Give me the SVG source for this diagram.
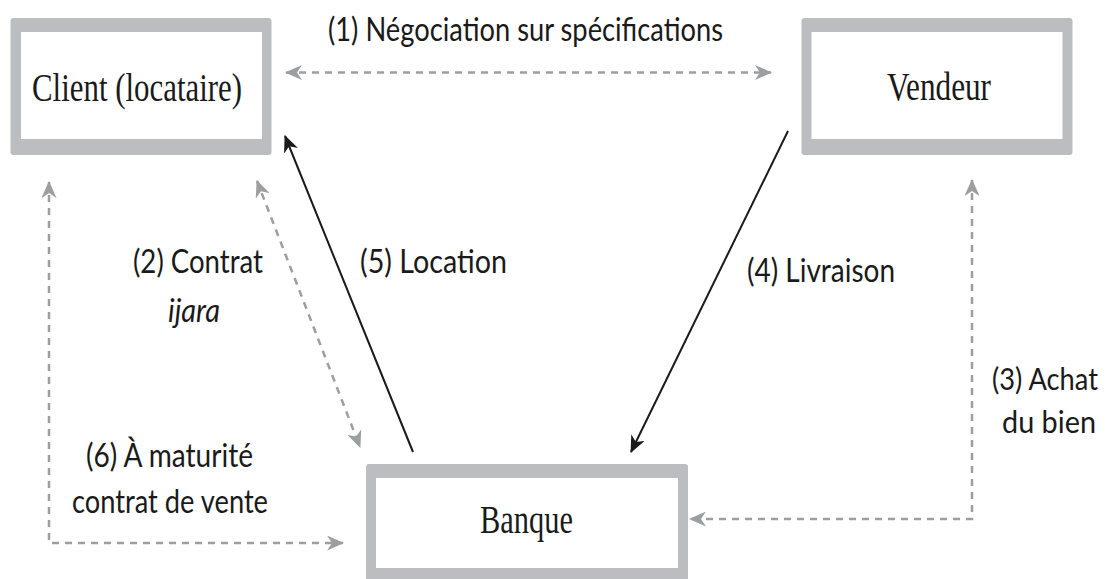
<svg xmlns="http://www.w3.org/2000/svg" width="1109" height="579" viewBox="0 0 1109 579">
  <style>
    .box-outer { fill: #bcbdc0; }
    .box-inner { fill: #ffffff; }
    .node-label { font-family: "Liberation Serif", serif; font-size: 40px; fill: #1a1a1a; }
    .edge-label { font-family: Lato, "Liberation Sans", sans-serif; font-size: 32px; fill: #1a1a1a; }
    .edge-label.tight { font-size: 30px; }
    .dashed { fill: none; stroke: #9c9ea1; stroke-width: 2.5; stroke-dasharray: 7 6; }
    .solid { fill: none; stroke: #1a1a1a; stroke-width: 2; }
  </style>
  <defs>
    <marker id="arrow-grey" viewBox="0 0 17 15" refX="16" refY="7.5" markerWidth="17" markerHeight="15" markerUnits="userSpaceOnUse" orient="auto-start-reverse">
      <path d="M0,0 L17,7.5 L0,15 L5,7.5 Z" fill="#9c9ea1"/>
    </marker>
    <marker id="arrow-black" viewBox="0 0 17 15" refX="16" refY="7.5" markerWidth="17" markerHeight="15" markerUnits="userSpaceOnUse" orient="auto">
      <path d="M0,0 L17,7.5 L0,15 L5,7.5 Z" fill="#1a1a1a"/>
    </marker>
  </defs>

  <rect width="1109" height="579" fill="#ffffff"/>

  <!-- Connectors -->
  <g id="connectors">
    <!-- (1) negotiation, both ways -->
    <line class="dashed" x1="286" y1="72.5" x2="771" y2="72.5" marker-start="url(#arrow-grey)" marker-end="url(#arrow-grey)"/>
    <!-- (2) ijara contract, both ways -->
    <line class="dashed" x1="257" y1="181" x2="360" y2="447" marker-start="url(#arrow-grey)" marker-end="url(#arrow-grey)"/>
    <!-- (6) sale contract at maturity -->
    <polyline class="dashed" points="49,182 49,543 343,543" marker-start="url(#arrow-grey)" marker-end="url(#arrow-grey)"/>
    <!-- (3) purchase of the asset -->
    <polyline class="dashed" points="972,180 972,519 690,519" marker-start="url(#arrow-grey)" marker-end="url(#arrow-grey)"/>
    <!-- (5) lease -->
    <line class="solid" x1="413" y1="452" x2="285" y2="136" marker-end="url(#arrow-black)"/>
    <!-- (4) delivery -->
    <line class="solid" x1="788" y1="131" x2="631" y2="452" marker-end="url(#arrow-black)"/>

    <text class="edge-label" x="328" y="41" textLength="395" lengthAdjust="spacingAndGlyphs">(1) Négociation sur spécifications</text>
    <text class="edge-label" x="133" y="273" textLength="130" lengthAdjust="spacingAndGlyphs">(2) Contrat</text>
    <text class="edge-label" x="168" y="322" textLength="52" lengthAdjust="spacingAndGlyphs" font-style="italic">ijara</text>
    <text class="edge-label" x="360" y="273" textLength="147" lengthAdjust="spacingAndGlyphs">(5) Location</text>
    <text class="edge-label" x="747" y="282" textLength="148" lengthAdjust="spacingAndGlyphs">(4) Livraison</text>
    <text class="edge-label tight" x="1098" y="390" text-anchor="end" textLength="106" lengthAdjust="spacingAndGlyphs">(3) Achat</text>
    <text class="edge-label tight" x="1096" y="433" text-anchor="end" textLength="94" lengthAdjust="spacingAndGlyphs">du bien</text>
    <text class="edge-label" x="86" y="467" textLength="167" lengthAdjust="spacingAndGlyphs">(6) À maturité</text>
    <text class="edge-label" x="72" y="513" textLength="196" lengthAdjust="spacingAndGlyphs">contrat de vente</text>
  </g>

  <!-- Client -->
  <g id="client">
    <rect class="box-outer" x="10.5" y="18" width="261" height="137" rx="3"/>
    <rect class="box-inner" x="21" y="32" width="241" height="107"/>
    <text class="node-label" x="32" y="101" textLength="210" lengthAdjust="spacingAndGlyphs">Client (locataire)</text>
  </g>

  <!-- Vendeur -->
  <g id="vendeur">
    <rect class="box-outer" x="801.5" y="18" width="271" height="137" rx="3"/>
    <rect class="box-inner" x="811.5" y="32" width="251" height="107"/>
    <text class="node-label" x="887" y="100" textLength="104" lengthAdjust="spacingAndGlyphs">Vendeur</text>
  </g>

  <!-- Banque -->
  <g id="banque">
    <rect class="box-outer" x="366" y="464" width="322" height="125" rx="3"/>
    <rect class="box-inner" x="376" y="478" width="302" height="90"/>
    <text class="node-label" x="480" y="533" textLength="93" lengthAdjust="spacingAndGlyphs">Banque</text>
  </g>
</svg>
